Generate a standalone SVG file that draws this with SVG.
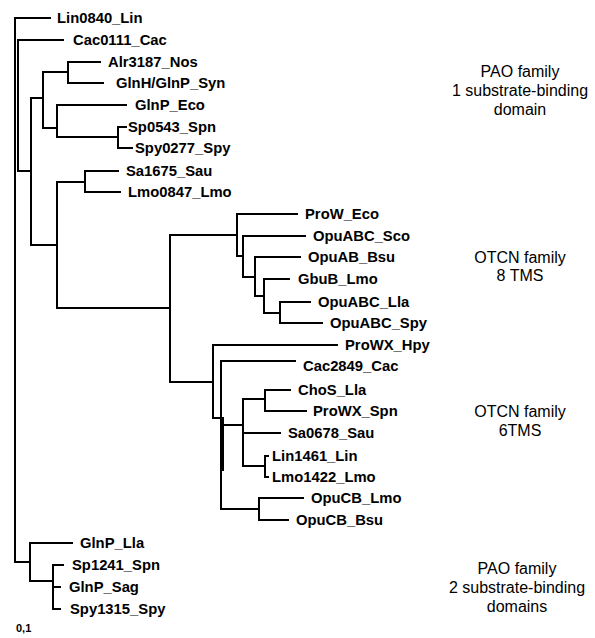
<svg xmlns="http://www.w3.org/2000/svg" width="595" height="638" viewBox="0 0 595 638">
<style>
.e{fill:none;stroke:#000;stroke-width:2;stroke-linecap:square}
.l{font-family:"Liberation Sans",Arial,sans-serif;font-weight:bold;font-size:14.8px;fill:#000}
.c{font-family:"Liberation Sans",Arial,sans-serif;font-size:16px;fill:#000;text-anchor:middle}
</style>
<rect width="595" height="638" fill="#fff"/>
<g id="edges" class="e">
<path d="M15 18V562M15 18H50M18 40V171M18 40H63M18 171H31M31 98V245M31 98H43M43 72V128M43 128H57M43 72H68M68 62V83M68 62H100M68 83H103M57 105V137M57 105H126M57 137H118M118 127V148M118 127H126M118 148H132"/>
<path d="M31 245H57M57 182V308M57 182H85M85 171V192M85 171H118M85 192H120"/>
<path d="M57 308H170M170 235V382M170 235H237M237 214V256M237 214H297M237 256H243M243 236V277M243 236H305M243 277H255M255 257V296M255 257H300M255 296H264M264 279V313M264 279H289M264 313H280M280 302V323M280 302H310M280 323H322"/>
<path d="M170 382H213M213 345V418M213 345H337M213 418H221M221 361V509M223 418V470M221 361H295M221 425H243M243 399V466M243 399H265M265 390V411M265 390H290M265 411H306M243 433H280M243 466H265M265 456V477M265 456H268M265 477H268M222 509H259M259 498V520M259 498H303M259 520H288"/>
<path d="M15 562H30M30 543V581M30 543H72M30 581H53M53 565V609M53 565H63M53 587H60M53 609H60"/>
</g>
<g id="Lin0840_Lin"><text class="l" x="57" y="23">Lin0840_Lin</text></g>
<g id="Cac0111_Cac"><text class="l" x="73" y="45">Cac0111_Cac</text></g>
<g id="Alr3187_Nos"><text class="l" x="108" y="67">Alr3187_Nos</text></g>
<g id="GlnH_GlnP_Syn"><text class="l" x="116" y="88">GlnH/GlnP_Syn</text></g>
<g id="GlnP_Eco"><text class="l" x="135" y="110">GlnP_Eco</text></g>
<g id="Sp0543_Spn"><text class="l" x="128" y="132">Sp0543_Spn</text></g>
<g id="Spy0277_Spy"><text class="l" x="135" y="153">Spy0277_Spy</text></g>
<g id="Sa1675_Sau"><text class="l" x="126" y="176">Sa1675_Sau</text></g>
<g id="Lmo0847_Lmo"><text class="l" x="128" y="197">Lmo0847_Lmo</text></g>
<g id="ProW_Eco"><text class="l" x="305" y="219">ProW_Eco</text></g>
<g id="OpuABC_Sco"><text class="l" x="313" y="241">OpuABC_Sco</text></g>
<g id="OpuAB_Bsu"><text class="l" x="308" y="262">OpuAB_Bsu</text></g>
<g id="GbuB_Lmo"><text class="l" x="298" y="284">GbuB_Lmo</text></g>
<g id="OpuABC_Lla"><text class="l" x="318" y="307">OpuABC_Lla</text></g>
<g id="OpuABC_Spy"><text class="l" x="330" y="328">OpuABC_Spy</text></g>
<g id="ProWX_Hpy"><text class="l" x="345" y="350">ProWX_Hpy</text></g>
<g id="Cac2849_Cac"><text class="l" x="303" y="371">Cac2849_Cac</text></g>
<g id="ChoS_Lla"><text class="l" x="298" y="395">ChoS_Lla</text></g>
<g id="ProWX_Spn"><text class="l" x="313" y="416">ProWX_Spn</text></g>
<g id="Sa0678_Sau"><text class="l" x="288" y="438">Sa0678_Sau</text></g>
<g id="Lin1461_Lin"><text class="l" x="272" y="461">Lin1461_Lin</text></g>
<g id="Lmo1422_Lmo"><text class="l" x="272" y="482">Lmo1422_Lmo</text></g>
<g id="OpuCB_Lmo"><text class="l" x="311" y="503">OpuCB_Lmo</text></g>
<g id="OpuCB_Bsu"><text class="l" x="296" y="525">OpuCB_Bsu</text></g>
<g id="GlnP_Lla"><text class="l" x="80" y="548">GlnP_Lla</text></g>
<g id="Sp1241_Spn"><text class="l" x="72" y="570">Sp1241_Spn</text></g>
<g id="GlnP_Sag"><text class="l" x="69" y="592">GlnP_Sag</text></g>
<g id="Spy1315_Spy"><text class="l" x="70" y="614">Spy1315_Spy</text></g>
<g id="group_PAO1"><text class="c" x="520" y="77">PAO family</text><text class="c" x="520" y="96">1 substrate-binding</text><text class="c" x="520" y="115">domain</text></g>
<g id="group_OTCN8"><text class="c" x="520" y="263">OTCN family</text><text class="c" x="520" y="281">8 TMS</text></g>
<g id="group_OTCN6"><text class="c" x="520" y="417">OTCN family</text><text class="c" x="520" y="436">6TMS</text></g>
<g id="group_PAO2"><text class="c" x="517" y="574">PAO family</text><text class="c" x="517" y="593">2 substrate-binding</text><text class="c" x="517" y="612">domains</text></g>
<g id="scale"><text class="l" x="16" y="632" style="font-size:11px">0,1</text></g>
</svg>
